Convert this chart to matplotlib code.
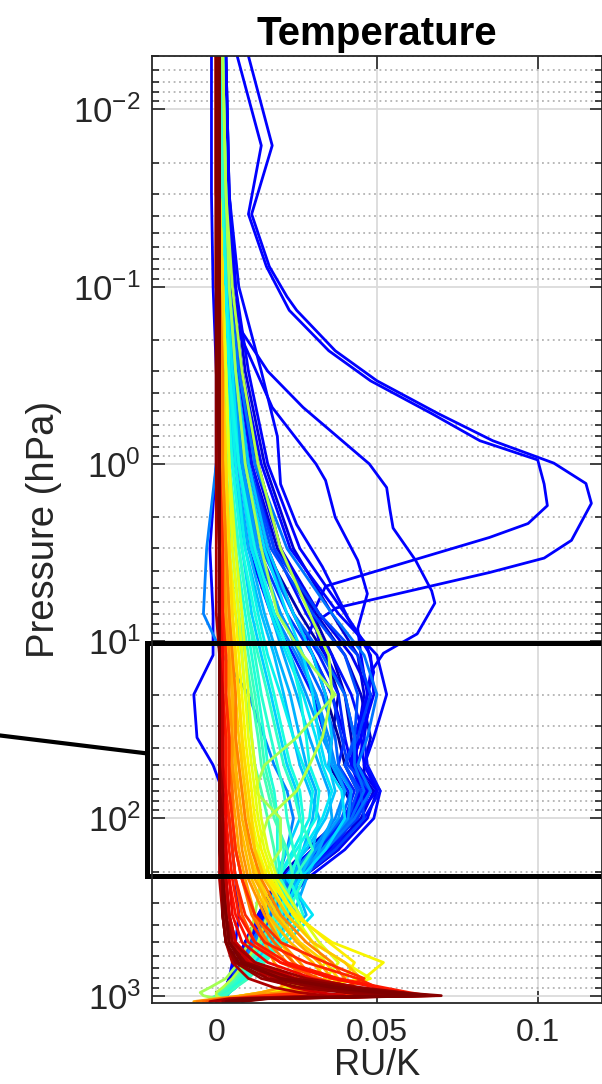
import numpy as np
import matplotlib
matplotlib.use('Agg')
import matplotlib.pyplot as plt
from matplotlib import transforms
from matplotlib.ticker import FixedLocator, LogLocator, NullFormatter

plt.rcParams['font.family'] = ['Liberation Sans', 'DejaVu Sans']
plt.rcParams['mathtext.fontset'] = 'custom'
plt.rcParams['mathtext.rm'] = 'Liberation Sans'
plt.rcParams['mathtext.default'] = 'regular'

#-----
# pressure levels (hPa) shared by the bulk of the profiles
levels = [0.005, 0.03, 0.1, 0.3, 1, 3, 7, 12, 20, 35, 50, 70, 100, 150,
          220, 350, 500, 650, 800, 900, 960, 1000, 1040, 1080]

# navy / blue profiles (colour index on the jet scale, then RU/K per level)
navy_c = [0.02, 0.05, 0.08, 0.10, 0.12, 0.14, 0.16, 0.18, 0.20, 0.22, 0.24, 0.26, 0.12,
          0.04, 0.07, 0.13, 0.15, 0.19, 0.23]
navy_x = [
    [0.002,0.003,0.004,0.006,0.010,0.016,0.024,0.030,0.034,0.038,0.040,0.044,0.042,0.034,0.024,0.016,0.010,0.006,0.004,0.003,0.002,0.002,0.003,0.004],
    [0.002,0.003,0.005,0.008,0.013,0.020,0.030,0.036,0.040,0.042,0.043,0.047,0.040,0.030,0.020,0.014,0.009,0.006,0.004,0.003,0.002,0.002,0.003,0.004],
    [0.003,0.004,0.006,0.009,0.015,0.024,0.036,0.044,0.046,0.044,0.043,0.049,0.045,0.036,0.024,0.016,0.010,0.007,0.005,0.004,0.003,0.003,0.004,0.004],
    [0.002,0.003,0.005,0.008,0.012,0.020,0.032,0.042,0.048,0.046,0.044,0.050,0.047,0.038,0.026,0.018,0.012,0.008,0.005,0.004,0.003,0.003,0.004,0.005],
    [0.003,0.004,0.006,0.010,0.016,0.026,0.040,0.048,0.049,0.045,0.042,0.047,0.043,0.035,0.025,0.017,0.011,0.007,0.005,0.004,0.003,0.003,0.004,0.005],
    [0.002,0.003,0.004,0.007,0.011,0.018,0.028,0.036,0.042,0.046,0.047,0.051,0.046,0.036,0.026,0.018,0.012,0.008,0.006,0.004,0.003,0.003,0.004,0.005],
    [0.002,0.002,0.004,0.006,0.009,0.015,0.024,0.032,0.038,0.040,0.038,0.043,0.040,0.032,0.023,0.016,0.011,0.007,0.005,0.004,0.003,0.003,0.004,0.005],
    [0.001,0.002,0.003,0.005,0.008,0.013,0.022,0.030,0.036,0.039,0.041,0.048,0.044,0.034,0.024,0.016,0.011,0.007,0.005,0.004,0.003,0.003,0.004,0.004],
    [0.002,0.003,0.004,0.006,0.010,0.017,0.030,0.040,0.044,0.043,0.040,0.044,0.041,0.033,0.023,0.016,0.011,0.008,0.006,0.004,0.003,0.003,0.004,0.005],
    [0.001,0.002,0.003,0.005,0.008,0.012,0.020,0.027,0.033,0.037,0.038,0.042,0.039,0.031,0.022,0.016,0.011,0.008,0.006,0.004,0.003,0.003,0.004,0.004],
    [0.002,0.003,0.004,0.007,0.012,0.022,0.036,0.046,0.050,0.047,0.044,0.048,0.043,0.034,0.024,0.017,0.012,0.008,0.006,0.004,0.003,0.003,0.004,0.005],
    [0.001,0.002,0.003,0.004,0.007,0.011,0.018,0.025,0.031,0.035,0.037,0.040,0.037,0.030,0.022,0.016,0.012,0.008,0.006,0.004,0.003,0.003,0.004,0.004],
    [-0.0015,-0.0015,-0.001,0.000,0.000,-0.002,-0.001,-0.001,-0.007,-0.006,-0.001,0.002,0.004,0.005,0.006,0.007,0.006,0.005,0.004,0.003,0.003,0.003,0.003,0.004],
    [0.001,0.002,0.003,0.005,0.009,0.015,0.026,0.034,0.038,0.036,0.035,0.040,0.044,0.038,0.026,0.017,0.011,0.007,0.005,0.004,0.003,0.003,0.003,0.004],
    [0.002,0.003,0.004,0.007,0.011,0.019,0.031,0.040,0.045,0.048,0.046,0.046,0.039,0.028,0.019,0.013,0.009,0.006,0.004,0.003,0.002,0.002,0.003,0.004],
    [0.003,0.004,0.005,0.008,0.014,0.023,0.038,0.050,0.053,0.049,0.046,0.051,0.049,0.040,0.028,0.019,0.013,0.009,0.006,0.004,0.003,0.003,0.004,0.005],
    [0.001,0.002,0.003,0.004,0.006,0.010,0.017,0.024,0.030,0.034,0.036,0.041,0.043,0.036,0.025,0.017,0.012,0.008,0.006,0.004,0.003,0.003,0.004,0.004],
    [0.002,0.003,0.004,0.006,0.010,0.018,0.032,0.044,0.048,0.044,0.040,0.045,0.046,0.037,0.026,0.018,0.012,0.008,0.006,0.004,0.003,0.003,0.004,0.005],
    [0.002,0.002,0.003,0.005,0.008,0.014,0.024,0.033,0.040,0.043,0.043,0.046,0.042,0.033,0.023,0.016,0.011,0.008,0.006,0.004,0.003,0.003,0.004,0.005],
]

# light blue / cyan profiles
cyan_c = [0.28, 0.30, 0.32, 0.33, 0.35, 0.36, 0.38, 0.39, 0.25, 0.41, 0.42, 0.34, 0.44,
          0.27, 0.29, 0.31, 0.37, 0.40, 0.43]
cyan_x = [
    [0.002,0.002,0.003,0.005,0.008,0.013,0.020,0.026,0.031,0.034,0.036,0.040,0.038,0.031,0.025,0.022,0.016,0.011,0.007,0.005,0.004,0.003,0.002,0.003],
    [0.002,0.002,0.003,0.004,0.006,0.010,0.015,0.019,0.023,0.026,0.028,0.031,0.030,0.027,0.024,0.028,0.020,0.014,0.009,0.006,0.004,0.003,0.002,0.002],
    [0.002,0.003,0.004,0.006,0.010,0.016,0.024,0.030,0.034,0.036,0.035,0.037,0.034,0.028,0.021,0.019,0.015,0.010,0.007,0.005,0.004,0.003,0.003,0.003],
    [0.001,0.002,0.003,0.004,0.005,0.008,0.011,0.014,0.017,0.020,0.022,0.025,0.026,0.022,0.018,0.025,0.018,0.012,0.008,0.006,0.004,0.003,0.002,0.002],
    [0.002,0.002,0.003,0.005,0.007,0.011,0.017,0.022,0.027,0.031,0.033,0.036,0.033,0.027,0.022,0.030,0.022,0.014,0.008,0.005,0.003,0.002,0.001,0.001],
    [0.002,0.002,0.003,0.004,0.006,0.009,0.013,0.016,0.020,0.024,0.027,0.030,0.029,0.024,0.019,0.016,0.013,0.010,0.007,0.005,0.004,0.003,0.002,0.002],
    [0.001,0.002,0.002,0.003,0.005,0.008,0.012,0.015,0.018,0.021,0.023,0.026,0.027,0.026,0.023,0.027,0.020,0.014,0.009,0.006,0.004,0.003,0.002,0.002],
    [0.001,0.002,0.002,0.003,0.004,0.006,0.009,0.011,0.013,0.015,0.016,0.018,0.019,0.019,0.020,0.022,0.018,0.013,0.008,0.005,0.003,0.002,0.001,0.002],
    [0.002,0.002,0.003,0.004,0.000,-0.003,-0.004,0.002,0.010,0.015,0.018,0.022,0.024,0.022,0.019,0.023,0.018,0.012,0.007,0.004,0.002,0.001,0.000,0.001],
    [0.001,0.002,0.002,0.003,0.004,0.007,0.010,0.013,0.016,0.019,0.021,0.024,0.026,0.030,0.024,0.020,0.016,0.011,0.007,0.004,0.002,0.001,0.000,0.001],
    [0.001,0.001,0.002,0.003,0.004,0.006,0.008,0.010,0.012,0.014,0.015,0.017,0.019,0.021,0.020,0.026,0.021,0.015,0.010,0.006,0.004,0.002,0.001,0.001],
    [0.002,0.003,0.004,0.006,0.009,0.015,0.022,0.027,0.030,0.032,0.034,0.039,0.040,0.034,0.026,0.020,0.015,0.011,0.007,0.005,0.003,0.002,0.002,0.003],
    [0.001,0.001,0.002,0.002,0.003,0.004,0.006,0.008,0.009,0.011,0.012,0.014,0.016,0.018,0.019,0.018,0.014,0.010,0.006,0.003,0.001,0.000,-0.001,0.000],
    [0.002,0.002,0.003,0.005,0.008,0.012,0.018,0.023,0.028,0.033,0.037,0.042,0.041,0.033,0.024,0.018,0.014,0.010,0.007,0.005,0.004,0.003,0.003,0.003],
    [0.001,0.002,0.003,0.004,0.007,0.011,0.017,0.021,0.025,0.029,0.032,0.035,0.036,0.032,0.028,0.024,0.017,0.011,0.007,0.005,0.003,0.002,0.002,0.002],
    [0.001,0.002,0.002,0.003,0.005,0.009,0.014,0.018,0.021,0.024,0.026,0.029,0.032,0.030,0.026,0.021,0.017,0.012,0.008,0.005,0.003,0.002,0.002,0.002],
    [0.002,0.002,0.003,0.004,0.007,0.012,0.018,0.023,0.026,0.028,0.029,0.032,0.031,0.025,0.019,0.024,0.019,0.013,0.008,0.005,0.003,0.002,0.001,0.002],
    [0.001,0.001,0.002,0.003,0.004,0.007,0.010,0.012,0.014,0.017,0.019,0.021,0.022,0.024,0.027,0.022,0.016,0.011,0.007,0.004,0.002,0.001,0.000,0.001],
    [0.001,0.001,0.002,0.002,0.003,0.005,0.007,0.009,0.011,0.013,0.014,0.016,0.018,0.022,0.024,0.019,0.014,0.010,0.006,0.003,0.001,0.000,-0.002,0.000],
]

# the two light green profiles that cross between 20 and 100 hPa
green_c = [0.55, 0.57]
green_x = [
    [0.002,0.003,0.004,0.006,0.009,0.014,0.019,0.027,0.037,0.025,0.015,0.012,0.020,0.020,0.014,0.012,0.010,0.007,0.003,-0.002,-0.005,-0.004,0.000,0.002],
    [0.002,0.003,0.005,0.008,0.013,0.020,0.029,0.035,0.036,0.033,0.029,0.025,0.016,0.013,0.014,0.016,0.013,0.009,0.005,0.002,0.000,0.000,0.002,0.003],
]

# yellow / orange profiles
warm_c = [0.65, 0.63, 0.70, 0.72, 0.75, 0.77, 0.68, 0.80, 0.66, 0.74,
          0.62, 0.64, 0.69, 0.71, 0.78, 0.82]
warm_x = [
    [0.001,0.001,0.002,0.002,0.003,0.004,0.006,0.007,0.008,0.009,0.010,0.011,0.012,0.014,0.017,0.024,0.036,0.052,0.046,0.030,0.018,0.008,0.004,0.004],
    [0.001,0.001,0.002,0.003,0.004,0.005,0.007,0.008,0.009,0.010,0.011,0.012,0.013,0.015,0.018,0.024,0.030,0.034,0.030,0.022,0.014,0.008,0.004,0.003],
    [0.001,0.001,0.001,0.002,0.002,0.003,0.004,0.005,0.006,0.007,0.008,0.009,0.010,0.012,0.015,0.022,0.030,0.040,0.045,0.040,0.030,0.015,0.006,0.003],
    [0.000,0.001,0.001,0.001,0.002,0.003,0.004,0.004,0.005,0.006,0.006,0.007,0.008,0.010,0.012,0.018,0.025,0.032,0.036,0.030,0.022,0.012,0.005,0.002],
    [0.000,0.000,0.001,0.001,0.002,0.002,0.003,0.004,0.004,0.005,0.005,0.006,0.007,0.008,0.010,0.015,0.020,0.026,0.030,0.026,0.020,0.010,0.004,0.002],
    [0.001,0.001,0.001,0.002,0.002,0.003,0.004,0.005,0.006,0.006,0.007,0.008,0.009,0.011,0.014,0.020,0.028,0.036,0.040,0.035,0.026,0.014,0.004,0.000],
    [0.001,0.001,0.002,0.002,0.003,0.004,0.005,0.006,0.007,0.008,0.009,0.010,0.011,0.012,0.013,0.016,0.020,0.024,0.025,0.020,0.014,0.008,0.003,0.002],
    [0.000,0.000,0.001,0.001,0.001,0.002,0.002,0.003,0.003,0.004,0.004,0.005,0.005,0.006,0.008,0.012,0.018,0.024,0.030,0.032,0.028,0.015,0.002,-0.004],
    [0.001,0.001,0.002,0.002,0.003,0.004,0.005,0.006,0.007,0.008,0.008,0.009,0.010,0.012,0.016,0.025,0.035,0.043,0.040,0.030,0.020,0.010,0.004,0.003],
    [0.000,0.001,0.001,0.001,0.002,0.002,0.003,0.003,0.004,0.004,0.005,0.005,0.006,0.007,0.009,0.012,0.015,0.018,0.022,0.020,0.014,0.008,0.000,-0.007],
    [0.001,0.001,0.002,0.003,0.004,0.006,0.008,0.009,0.010,0.011,0.012,0.013,0.014,0.016,0.019,0.026,0.032,0.038,0.034,0.024,0.016,0.008,0.004,0.003],
    [0.001,0.001,0.002,0.002,0.003,0.004,0.005,0.006,0.007,0.008,0.009,0.010,0.011,0.013,0.016,0.022,0.030,0.040,0.048,0.040,0.026,0.012,0.004,0.002],
    [0.000,0.001,0.001,0.002,0.002,0.003,0.004,0.005,0.005,0.006,0.007,0.008,0.009,0.010,0.013,0.019,0.026,0.034,0.038,0.034,0.026,0.014,0.004,0.001],
    [0.001,0.001,0.001,0.002,0.002,0.003,0.003,0.004,0.005,0.005,0.006,0.006,0.007,0.009,0.011,0.016,0.023,0.030,0.034,0.030,0.024,0.014,0.003,-0.002],
    [0.000,0.000,0.001,0.001,0.001,0.002,0.002,0.003,0.003,0.004,0.004,0.004,0.005,0.006,0.008,0.011,0.016,0.022,0.028,0.030,0.028,0.020,0.004,-0.006],
    [0.000,0.000,0.000,0.001,0.001,0.001,0.002,0.002,0.002,0.003,0.003,0.003,0.004,0.005,0.006,0.008,0.012,0.020,0.032,0.040,0.042,0.036,0.006,-0.003],
]

# red / dark red profiles with the near-surface maximum
red_c = [0.86, 0.88, 0.90, 0.92, 0.94, 0.95, 0.97, 0.98, 1.00, 0.99, 0.93, 0.96,
         0.87, 0.89, 0.91, 0.96, 0.985, 1.00]
red_x = [
    [0.000,0.000,0.001,0.001,0.001,0.002,0.002,0.003,0.003,0.004,0.004,0.004,0.005,0.006,0.008,0.012,0.020,0.034,0.046,0.040,0.030,0.015,0.005,0.000],
    [0.000,0.001,0.001,0.001,0.001,0.001,0.002,0.002,0.002,0.003,0.003,0.003,0.003,0.004,0.005,0.007,0.012,0.022,0.038,0.052,0.060,0.066,0.010,0.002],
    [0.000,0.000,0.000,0.001,0.001,0.001,0.001,0.002,0.002,0.002,0.002,0.003,0.003,0.003,0.004,0.005,0.008,0.016,0.030,0.044,0.055,0.062,0.008,0.005],
    [0.000,0.000,0.001,0.001,0.001,0.001,0.001,0.001,0.002,0.002,0.002,0.002,0.002,0.003,0.003,0.004,0.006,0.012,0.025,0.040,0.052,0.060,0.012,0.004],
    [0.001,0.001,0.001,0.001,0.001,0.001,0.001,0.001,0.001,0.002,0.002,0.002,0.002,0.002,0.003,0.004,0.005,0.010,0.022,0.036,0.050,0.068,0.015,0.006],
    [0.000,0.000,0.000,0.000,0.000,0.001,0.001,0.001,0.001,0.001,0.001,0.001,0.002,0.002,0.002,0.003,0.004,0.008,0.018,0.030,0.042,0.055,0.010,0.003],
    [0.000,0.000,0.000,0.001,0.001,0.001,0.001,0.001,0.001,0.001,0.001,0.002,0.002,0.002,0.002,0.003,0.005,0.012,0.028,0.045,0.058,0.064,0.012,0.004],
    [0.001,0.001,0.001,0.001,0.001,0.001,0.001,0.001,0.001,0.001,0.001,0.001,0.001,0.002,0.002,0.002,0.003,0.006,0.014,0.026,0.040,0.050,0.008,0.002],
    [0.000,0.000,0.000,0.000,0.001,0.001,0.001,0.001,0.001,0.001,0.001,0.001,0.001,0.001,0.002,0.002,0.003,0.007,0.020,0.038,0.054,0.065,0.014,0.006],
    [0.001,0.001,0.001,0.001,0.001,0.001,0.001,0.001,0.001,0.001,0.001,0.001,0.002,0.002,0.002,0.003,0.004,0.009,0.024,0.042,0.057,0.070,0.016,0.008],
    [0.000,0.000,0.000,0.001,0.001,0.001,0.001,0.001,0.002,0.002,0.002,0.002,0.002,0.002,0.003,0.004,0.006,0.010,0.016,0.024,0.032,0.040,0.006,0.000],
    [0.000,0.000,0.000,0.000,0.000,0.000,0.000,0.001,0.001,0.001,0.001,0.001,0.001,0.001,0.001,0.002,0.003,0.005,0.010,0.018,0.026,0.034,0.004,-0.002],
    [0.000,0.000,0.001,0.001,0.001,0.001,0.002,0.002,0.002,0.003,0.003,0.003,0.004,0.005,0.006,0.009,0.015,0.028,0.044,0.050,0.048,0.030,0.006,0.000],
    [0.000,0.000,0.000,0.001,0.001,0.001,0.001,0.002,0.002,0.002,0.002,0.002,0.003,0.003,0.004,0.006,0.010,0.020,0.036,0.050,0.058,0.063,0.010,0.003],
    [0.001,0.001,0.001,0.001,0.001,0.001,0.001,0.001,0.002,0.002,0.002,0.002,0.002,0.003,0.003,0.004,0.006,0.011,0.022,0.034,0.044,0.052,0.008,0.002],
    [0.000,0.000,0.000,0.000,0.001,0.001,0.001,0.001,0.001,0.001,0.001,0.001,0.002,0.002,0.002,0.003,0.004,0.009,0.022,0.040,0.056,0.067,0.014,0.005],
    [0.000,0.000,0.000,0.000,0.000,0.001,0.001,0.001,0.001,0.001,0.001,0.001,0.001,0.001,0.002,0.002,0.003,0.006,0.016,0.032,0.046,0.058,0.012,0.004],
    [0.001,0.001,0.001,0.001,0.001,0.001,0.001,0.001,0.001,0.001,0.001,0.001,0.001,0.002,0.002,0.003,0.004,0.008,0.020,0.036,0.050,0.062,0.010,0.003],
]

# profiles with a mesospheric / upper stratospheric lobe, on their own levels
lobe_inner_p = [0.005, 0.016, 0.039, 0.077, 0.114, 0.136, 0.23, 0.34, 0.52, 0.74, 0.95, 1.3, 1.72,
                2.17, 2.6, 4.9, 7, 10, 20, 35, 50, 70, 100, 150, 220, 350, 500, 800, 1000, 1080]
lobe_inner_x = [0.0065, 0.014, 0.010, 0.0156, 0.0205, 0.0227, 0.035, 0.048, 0.067, 0.082, 0.100, 0.102, 0.103,
                0.097, 0.085, 0.034, 0.030, 0.032, 0.040, 0.043, 0.044, 0.047, 0.041, 0.031, 0.021, 0.014, 0.009, 0.005, 0.003, 0.004]
lobe_outer_p = [0.005, 0.016, 0.039, 0.077, 0.114, 0.136, 0.23, 0.34, 0.52, 0.74, 0.99, 1.29, 1.67, 2.7, 3.4,
                4.1, 6.5, 8, 10, 20, 35, 50, 70, 100, 150, 220, 350, 500, 800, 1000, 1080]
lobe_outer_x = [0.010, 0.0174, 0.011, 0.0165, 0.022, 0.025, 0.037, 0.050, 0.069, 0.086, 0.105, 0.115, 0.1167, 0.1105, 0.102,
                0.085, 0.0373, 0.030, 0.028, 0.036, 0.040, 0.042, 0.045, 0.040, 0.030, 0.020, 0.013, 0.009, 0.005, 0.003, 0.004]
bump1_p = [0.005, 0.03, 0.09, 0.18, 0.3, 0.48, 1.0, 1.36, 1.8, 2.3, 3.5, 5.2, 6.1, 9.1, 11.7, 15, 20,
           35, 50, 70, 100, 150, 220, 350, 500, 800, 1000, 1080]
bump1_x = [0.002, 0.003, 0.004, 0.008, 0.016, 0.027, 0.0476, 0.053, 0.054, 0.055, 0.062, 0.067, 0.068, 0.0625, 0.052, 0.048, 0.047,
           0.045, 0.046, 0.050, 0.043, 0.033, 0.022, 0.015, 0.010, 0.005, 0.003, 0.004]
bump2_p = [0.005, 0.03, 0.09, 0.18, 0.48, 1.0, 1.24, 2.0, 3.5, 5.4, 8.5, 12, 20, 35, 50, 70, 100,
           150, 220, 350, 500, 800, 1000, 1080]
bump2_x = [0.002, 0.002, 0.002, 0.007, 0.0174, 0.031, 0.034, 0.037, 0.044, 0.047, 0.044, 0.045, 0.047, 0.044, 0.043, 0.048, 0.042,
           0.032, 0.022, 0.015, 0.010, 0.005, 0.003, 0.004]
bump3_p = [0.005, 0.03, 0.1, 0.3, 0.7, 1.3, 2.2, 3.8, 7.4, 10.8, 15, 20, 35, 50, 70, 100, 150,
           220, 350, 500, 800, 1000, 1080]
bump3_x = [0.002, 0.004, 0.007, 0.014, 0.019, 0.020, 0.025, 0.033, 0.041, 0.047, 0.049, 0.047, 0.043, 0.042, 0.046, 0.040, 0.030,
           0.020, 0.014, 0.009, 0.005, 0.003, 0.004]
special_c = [0.12, 0.12, 0.12, 0.11, 0.13]

# pressure range of the highlighted box
box_top = 10.2
box_bottom = 212

#-----
profiles = []
for group_c, group_x in [(navy_c, navy_x), (cyan_c, cyan_x), (green_c, green_x),
                         (warm_c, warm_x), (red_c, red_x)]:
    for c, row in zip(group_c, group_x):
        profiles.append((c, levels, row))
for c, p, x in zip(special_c,
                   [lobe_inner_p, lobe_outer_p, bump1_p, bump2_p, bump3_p],
                   [lobe_inner_x, lobe_outer_x, bump1_x, bump2_x, bump3_x]):
    profiles.append((c, p, x))
profiles.sort(key=lambda t: t[0])

fig = plt.figure(figsize=(6.02, 10.84), dpi=100)
ax = fig.add_axes([152/602, 81/1084, 450/602, 947/1084])
cmap = plt.get_cmap('jet')
for c, p, x in profiles:
    ax.plot(x, p, color=cmap(c), lw=2.0, solid_joinstyle='round', solid_capstyle='round')

ax.set_yscale('log')
ax.set_ylim(1100, 0.005)
ax.set_xlim(-0.02, 0.12)
ax.set_xticks([0, 0.05, 0.1])
ax.set_xticklabels(['0', '0.05', '0.1'])
ax.yaxis.set_major_locator(FixedLocator(10.0**np.arange(-2, 4)))
ax.set_yticklabels([r'$10^{%d}$' % k for k in range(-2, 4)])
ax.yaxis.set_minor_locator(LogLocator(base=10, subs=np.arange(2, 10)))
ax.yaxis.set_minor_formatter(NullFormatter())

dark = (0.15, 0.15, 0.15)
ax.tick_params(which='both', direction='in', top=True, right=True,
               color=dark, labelcolor=dark, width=1.2)
ax.tick_params(which='major', length=9)
ax.tick_params(which='minor', length=5)
ax.tick_params(axis='x', labelsize=23, pad=11)
ax.tick_params(axis='y', labelsize=25, pad=8)
for s in ax.spines.values():
    s.set_color(dark)
    s.set_linewidth(1.3)
ax.grid(which='major', color=(0.86, 0.86, 0.86), lw=1.3)
ax.grid(which='minor', axis='y', color=(0.7, 0.7, 0.7), ls=(0, (1, 2)), lw=1.3)
ax.set_axisbelow(True)

ax.set_title('Temperature', fontsize=29, fontweight='bold', pad=8)
ax.set_ylabel('Pressure (hPa)', fontsize=27.5, color=dark)
ax.yaxis.set_label_coords(-0.2, 0.5)
ax.set_xlabel('RU/K', fontsize=26, color=dark, labelpad=0)

# zoom box and its connector
trans = transforms.blended_transform_factory(ax.transAxes, ax.transData)
ax.plot([1.05, -0.011, -0.011, 1.05], [box_top, box_top, box_bottom, box_bottom],
        color='k', lw=3.6, transform=trans, clip_on=False, solid_joinstyle='miter')
ax.plot([-0.34, -0.011], [34, 43], color='k', lw=3.0, transform=trans, clip_on=False)

fig.savefig('out.png', dpi=100)
